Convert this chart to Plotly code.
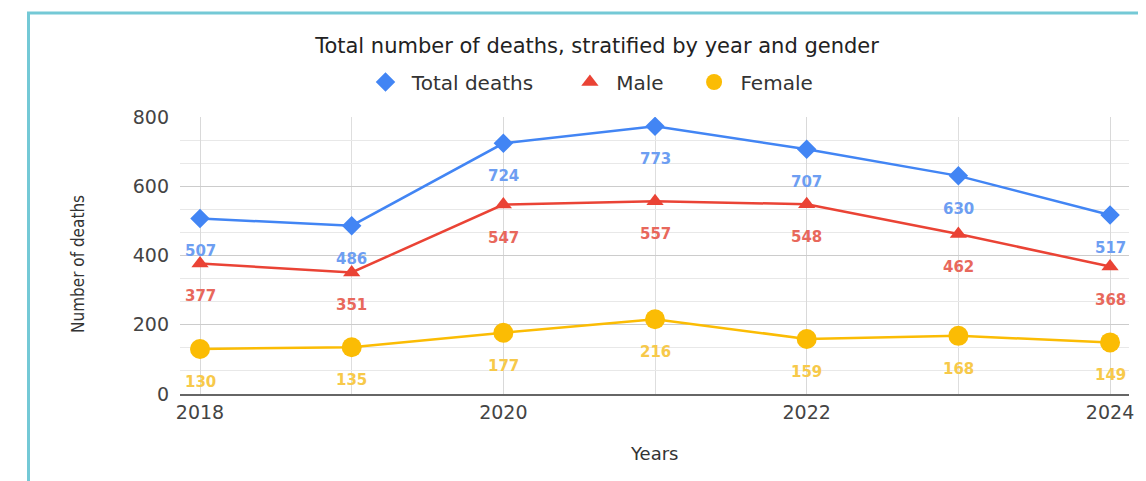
import plotly.graph_objects as go

years = [2018, 2019, 2020, 2021, 2022, 2023, 2024]
total_deaths = [507, 486, 724, 773, 707, 630, 517]
male = [377, 351, 547, 557, 548, 462, 368]
female = [130, 135, 177, 216, 159, 168, 149]
x_tick_labels = [2018, 2020, 2022, 2024]
y_tick_labels = [0, 200, 400, 600, 800]

FONT = "DejaVu Sans, Verdana, sans-serif"
NB = "\u00a0"

# The page body has an 8px margin; the figure is laid out in reference pixels minus 8.
OFF = 8
W, H = 1146 - OFF, 481 - OFF
PL, PR, PT, PB = 180, 1129, 117, 394  # plot area in reference pixels
PW, PH = PR - PL, PB - PT


def px(xr):
    return (xr - PL) / PW


def py(yr):
    return (PB - yr) / PH


series = [
    ("Total deaths", total_deaths, "#4285F4", "#6D9EF2", "diamond", 15, 5),
    ("Male", male, "#EA4335", "#E8685C", "triangle-up", 15, 4),
    ("Female", female, "#FBBC04", "#F7C94A", "circle", 20, 0),
]

fig = go.Figure()
annotations = []
for name, vals, col, lab_col, sym, sz, pad in series:
    fig.add_trace(go.Scatter(
        x=years, y=vals, name=name, mode="lines+markers", showlegend=False,
        line=dict(color=col, width=2.5),
        marker=dict(symbol=sym, size=sz, color=col),
    ))
    for xv, yv in zip(years, vals):
        annotations.append(dict(
            x=xv, y=yv, text=str(yv), showarrow=False, yshift=-33,
            font=dict(family=FONT, size=15, color=lab_col, weight="bold"),
        ))
for name, vals, col, lab_col, sym, sz, pad in series:
    fig.add_trace(go.Scatter(
        x=[None], y=[None], name=NB + name + NB * pad, mode="markers",
        marker=dict(symbol=sym, size=sz, color=col),
    ))

# axis titles
annotations.append(dict(
    xref="paper", yref="paper", x=px(78), y=py(264),
    xanchor="center", yanchor="middle",
    text="Number of deaths", textangle=-90, showarrow=False,
    font=dict(family="Liberation Sans Narrow, DejaVu Sans Condensed, Arial Narrow, sans-serif",
              size=17, color="#333333"),
))
annotations.append(dict(
    xref="paper", yref="paper", x=px(654), y=py(453),
    xanchor="center", yanchor="middle",
    text="Years", showarrow=False,
    font=dict(family=FONT, size=18, color="#333333"),
))

fig.update_layout(
    width=W, height=H,
    margin=dict(l=PL - OFF, r=W - (PR - OFF), t=PT - OFF, b=H - (PB - OFF)),
    paper_bgcolor="white", plot_bgcolor="white",
    title=dict(
        text="Total number of deaths, stratified by year and gender",
        x=px(597), xref="paper", xanchor="center",
        y=1 - (46 - OFF) / H, yref="container", yanchor="middle",
        font=dict(family=FONT, size=21, color="#222222"),
    ),
    legend=dict(
        orientation="h", x=px(592), xanchor="center",
        y=py(82), yanchor="middle",
        font=dict(family=FONT, size=20, color="#333333"),
        bgcolor="rgba(0,0,0,0)",
    ),
    xaxis=dict(
        range=[2017.868, 2024.125],
        tickvals=x_tick_labels, ticktext=[str(v) for v in x_tick_labels],
        showgrid=True, gridcolor="#d9d9d9", gridwidth=1,
        minor=dict(dtick=1, tick0=2018, showgrid=True, gridcolor="#dedede"),
        showline=True, linecolor="#666666", linewidth=1.5,
        zeroline=False, ticks="", ticklabelstandoff=0,
        tickfont=dict(family=FONT, size=19, color="#444444"),
    ),
    yaxis=dict(
        range=[0, 800],
        tickvals=y_tick_labels,
        showgrid=True, gridcolor="#cccccc", gridwidth=1,
        minor=dict(dtick=200 / 3, tick0=0, showgrid=True, gridcolor="#e8e8e8"),
        zeroline=False, ticks="", ticklabelstandoff=10,
        tickfont=dict(family=FONT, size=19, color="#444444"),
    ),
    annotations=annotations,
    shapes=[dict(
        type="rect", xref="paper", yref="paper",
        x0=px(28.5), x1=px(1160),
        y0=py(500), y1=py(13),
        line=dict(color="#74C9D6", width=3), fillcolor="rgba(0,0,0,0)",
        layer="below",
    )],
)

fig.write_html("out.html")
